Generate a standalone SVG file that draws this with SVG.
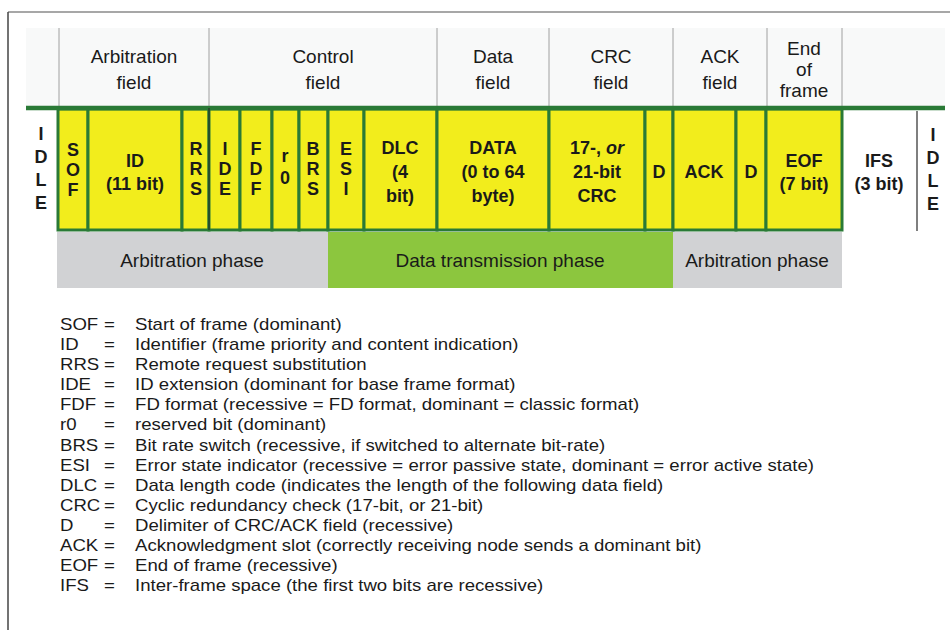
<svg xmlns="http://www.w3.org/2000/svg" width="950" height="630" viewBox="0 0 950 630">
<style>
  text { font-family: "Liberation Sans", Arial, Helvetica, sans-serif; fill: #1a1a1a; }
  .hdr { font-size: 19px; text-anchor: middle; }
  .lbl { font-size: 18px; font-weight: bold; text-anchor: middle; }
  .ph { font-size: 19px; text-anchor: middle; }
  .lg { font-size: 16.8px; }
  .sep { stroke: #a0a0a0; stroke-width: 1; }
  .box { fill: #f2ed1c; stroke: #2a7a36; stroke-width: 3; }
</style>
<rect x="0" y="0" width="950" height="630" fill="#ffffff"/>
<line x1="8" y1="12" x2="950" y2="12" stroke="#8a8a8a" stroke-width="1.5"/>
<line x1="8" y1="12" x2="8" y2="630" stroke="#444444" stroke-width="1.5"/>

<g id="header">
  <rect x="26" y="28" width="919" height="80" fill="#f8f9f9"/>
  <line class="sep" x1="59" y1="28" x2="59" y2="108"/>
  <line class="sep" x1="209" y1="28" x2="209" y2="108"/>
  <line class="sep" x1="437" y1="28" x2="437" y2="108"/>
  <line class="sep" x1="549" y1="28" x2="549" y2="108"/>
  <line class="sep" x1="673" y1="28" x2="673" y2="108"/>
  <line class="sep" x1="767" y1="28" x2="767" y2="108"/>
  <line class="sep" x1="842" y1="28" x2="842" y2="108"/>
  <text class="hdr" x="134" y="63">Arbitration</text>
  <text class="hdr" x="134" y="89">field</text>
  <text class="hdr" x="323" y="63">Control</text>
  <text class="hdr" x="323" y="89">field</text>
  <text class="hdr" x="493" y="63">Data</text>
  <text class="hdr" x="493" y="89">field</text>
  <text class="hdr" x="611" y="63">CRC</text>
  <text class="hdr" x="611" y="89">field</text>
  <text class="hdr" x="720" y="63">ACK</text>
  <text class="hdr" x="720" y="89">field</text>
  <text class="hdr" x="804" y="55">End</text>
  <text class="hdr" x="804" y="76">of</text>
  <text class="hdr" x="804" y="97">frame</text>
</g>

<g id="phases">
  <rect x="57" y="232" width="271" height="56" fill="#d1d2d4"/>
  <rect x="328" y="232" width="345" height="56" fill="#8cc63e"/>
  <rect x="673" y="232" width="169" height="56" fill="#d1d2d4"/>
  <text class="ph" x="192" y="267">Arbitration phase</text>
  <text class="ph" x="500" y="267">Data transmission phase</text>
  <text class="ph" x="757" y="267">Arbitration phase</text>
</g>

<g id="idle-left">
  <text class="lbl" x="41" y="140">I</text>
  <text class="lbl" x="41" y="163">D</text>
  <text class="lbl" x="41" y="186">L</text>
  <text class="lbl" x="41" y="209">E</text>
</g>
<g id="sof"><rect class="box" x="58" y="109" width="30" height="121"/>
  <text class="lbl" x="73" y="156">S</text><text class="lbl" x="73" y="176">O</text><text class="lbl" x="73" y="196">F</text></g>
<g id="id"><rect class="box" x="88" y="109" width="94" height="121" stroke-width="4"/>
  <text class="lbl" x="135" y="167">ID</text><text class="lbl" x="135" y="190">(11 bit)</text></g>
<g id="rrs"><rect class="box" x="182" y="109" width="27" height="121"/>
  <text class="lbl" x="196" y="155">R</text><text class="lbl" x="196" y="175">R</text><text class="lbl" x="196" y="195">S</text></g>
<g id="ide"><rect class="box" x="209" y="109" width="31" height="121"/>
  <text class="lbl" x="225" y="155">I</text><text class="lbl" x="225" y="175">D</text><text class="lbl" x="225" y="195">E</text></g>
<g id="fdf"><rect class="box" x="240" y="109" width="32" height="121"/>
  <text class="lbl" x="256" y="155">F</text><text class="lbl" x="256" y="175">D</text><text class="lbl" x="256" y="195">F</text></g>
<g id="r0"><rect class="box" x="272" y="109" width="27" height="121"/>
  <text class="lbl" x="285" y="162">r</text><text class="lbl" x="285" y="184">0</text></g>
<g id="brs"><rect class="box" x="299" y="109" width="29" height="121"/>
  <text class="lbl" x="313" y="155">B</text><text class="lbl" x="313" y="175">R</text><text class="lbl" x="313" y="195">S</text></g>
<g id="esi"><rect class="box" x="328" y="109" width="36" height="121"/>
  <text class="lbl" x="346" y="155">E</text><text class="lbl" x="346" y="175">S</text><text class="lbl" x="346" y="195">I</text></g>
<g id="dlc"><rect class="box" x="364" y="109" width="73" height="121"/>
  <text class="lbl" x="400" y="154">DLC</text><text class="lbl" x="400" y="178">(4</text><text class="lbl" x="400" y="202">bit)</text></g>
<g id="data"><rect class="box" x="437" y="109" width="112" height="121"/>
  <text class="lbl" x="493" y="154">DATA</text><text class="lbl" x="493" y="178">(0 to 64</text><text class="lbl" x="493" y="202">byte)</text></g>
<g id="crc"><rect class="box" x="549" y="109" width="96" height="121"/>
  <text class="lbl" x="597" y="154">17-, <tspan font-style="italic">or</tspan></text><text class="lbl" x="597" y="178">21-bit</text><text class="lbl" x="597" y="202">CRC</text></g>
<g id="crc-d"><rect class="box" x="645" y="109" width="28" height="121"/>
  <text class="lbl" x="659" y="178">D</text></g>
<g id="ack"><rect class="box" x="673" y="109" width="63" height="121"/>
  <text class="lbl" x="704" y="178">ACK</text></g>
<g id="ack-d"><rect class="box" x="736" y="109" width="30" height="121"/>
  <text class="lbl" x="751" y="178">D</text></g>
<g id="eof"><rect class="box" x="766" y="109" width="76" height="121"/>
  <text class="lbl" x="804" y="167">EOF</text><text class="lbl" x="804" y="190">(7 bit)</text></g>
<g id="ifs">
  <text class="lbl" x="879" y="167">IFS</text><text class="lbl" x="879" y="190">(3 bit)</text></g>
<g id="idle-right">
  <text class="lbl" x="933" y="141">I</text>
  <text class="lbl" x="933" y="164">D</text>
  <text class="lbl" x="933" y="187">L</text>
  <text class="lbl" x="933" y="210">E</text>
</g>

<g id="connectors">
  <line x1="26" y1="108" x2="945" y2="108" stroke="#2a7a36" stroke-width="4.5"/>
  <line x1="209" y1="108" x2="209" y2="230" stroke="#222222" stroke-width="1"/>
  <line x1="917" y1="111" x2="917" y2="231" stroke="#555555" stroke-width="1.5"/>
</g>

<g id="legend" transform="translate(60 0) scale(1.107 1) translate(-60 0)">
  <text class="lg" x="60" y="330">SOF</text><text class="lg" x="99.7" y="330">=</text><text class="lg" x="127.8" y="330">Start of frame (dominant)</text>
  <text class="lg" x="60" y="350.1">ID</text><text class="lg" x="99.7" y="350.1">=</text><text class="lg" x="127.8" y="350.1">Identifier (frame priority and content indication)</text>
  <text class="lg" x="60" y="370.2">RRS</text><text class="lg" x="99.7" y="370.2">=</text><text class="lg" x="127.8" y="370.2">Remote request substitution</text>
  <text class="lg" x="60" y="390.3">IDE</text><text class="lg" x="99.7" y="390.3">=</text><text class="lg" x="127.8" y="390.3">ID extension (dominant for base frame format)</text>
  <text class="lg" x="60" y="410.4">FDF</text><text class="lg" x="99.7" y="410.4">=</text><text class="lg" x="127.8" y="410.4">FD format (recessive = FD format, dominant = classic format)</text>
  <text class="lg" x="60" y="430.5">r0</text><text class="lg" x="99.7" y="430.5">=</text><text class="lg" x="127.8" y="430.5">reserved bit (dominant)</text>
  <text class="lg" x="60" y="450.6">BRS</text><text class="lg" x="99.7" y="450.6">=</text><text class="lg" x="127.8" y="450.6">Bit rate switch (recessive, if switched to alternate bit-rate)</text>
  <text class="lg" x="60" y="470.7">ESI</text><text class="lg" x="99.7" y="470.7">=</text><text class="lg" x="127.8" y="470.7">Error state indicator (recessive = error passive state, dominant = error active state)</text>
  <text class="lg" x="60" y="490.8">DLC</text><text class="lg" x="99.7" y="490.8">=</text><text class="lg" x="127.8" y="490.8">Data length code (indicates the length of the following data field)</text>
  <text class="lg" x="60" y="510.9">CRC</text><text class="lg" x="99.7" y="510.9">=</text><text class="lg" x="127.8" y="510.9">Cyclic redundancy check (17-bit, or 21-bit)</text>
  <text class="lg" x="60" y="531">D</text><text class="lg" x="99.7" y="531">=</text><text class="lg" x="127.8" y="531">Delimiter of CRC/ACK field (recessive)</text>
  <text class="lg" x="60" y="551.1">ACK</text><text class="lg" x="99.7" y="551.1">=</text><text class="lg" x="127.8" y="551.1">Acknowledgment slot (correctly receiving node sends a dominant bit)</text>
  <text class="lg" x="60" y="571.2">EOF</text><text class="lg" x="99.7" y="571.2">=</text><text class="lg" x="127.8" y="571.2">End of frame (recessive)</text>
  <text class="lg" x="60" y="591.3">IFS</text><text class="lg" x="99.7" y="591.3">=</text><text class="lg" x="127.8" y="591.3">Inter-frame space (the first two bits are recessive)</text>
</g>
</svg>
